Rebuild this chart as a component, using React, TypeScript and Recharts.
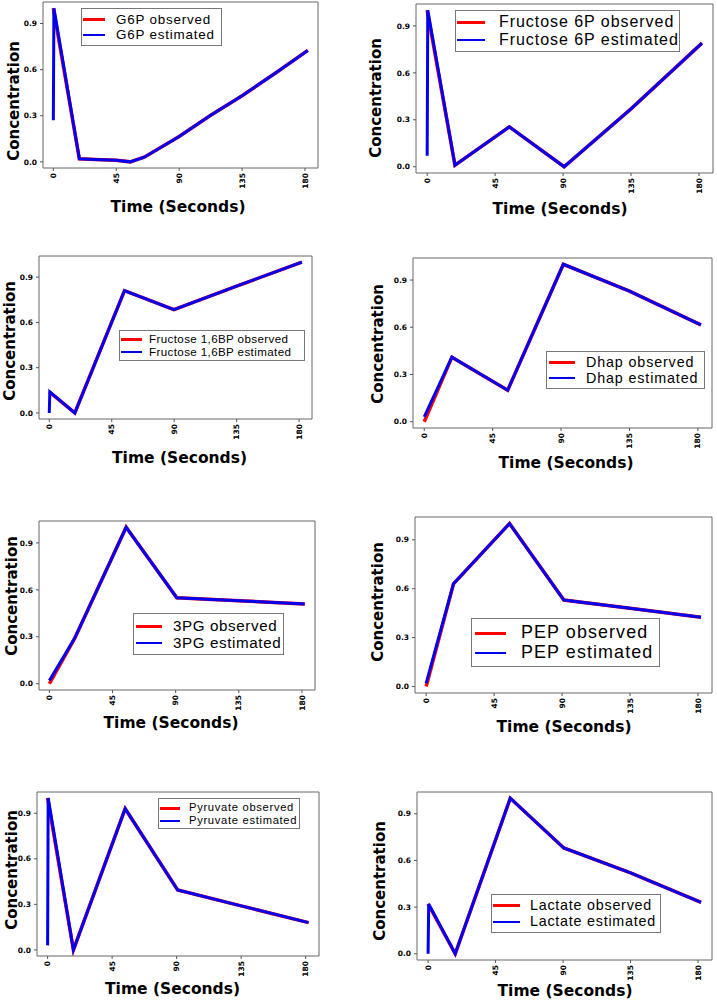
import { LineChart, Line, XAxis, YAxis, Legend, ReferenceArea } from "recharts";

// Normalised concentrations. Time in seconds.
const g6pTime = [0, 18.6, 30, 45, 55, 65, 90, 112, 135, 160, 182];
const g6pObserved = [1.0, 0.02, 0.015, 0.01, 0.0, 0.03, 0.165, 0.3, 0.43, 0.585, 0.725];
const g6pEstTime = [0, 0.4, 18.6, 30, 45, 55, 65, 90, 112, 135, 160, 182];
const g6pEstimated = [0.27, 1.0, 0.02, 0.015, 0.01, 0.0, 0.03, 0.165, 0.3, 0.43, 0.585, 0.725];

const f6pTime = [0, 18.4, 54.4, 90.7, 135, 182];
const f6pObserved = [1.0, 0.01, 0.255, 0.0, 0.37, 0.79];
const f6pEstTime = [0, 0.4, 18.4, 54.4, 90.7, 135, 182];
const f6pEstimated = [0.07, 1.0, 0.01, 0.255, 0.0, 0.37, 0.79];

const f16bpTime = [0, 18.4, 54.2, 89.8, 135, 182];
const f16bpObserved = [0.14, 0.0, 0.81, 0.685, 0.84, 1.0];
const f16bpEstTime = [0, 0.4, 18.4, 54.2, 89.8, 135, 182];
const f16bpEstimated = [0.0, 0.14, 0.0, 0.81, 0.685, 0.84, 1.0];

const dhapTime = [0, 18.2, 54.9, 91.5, 135, 182];
const dhapObserved = [0.0, 0.41, 0.2, 1.0, 0.83, 0.615];
const dhapEstTime = [0, 18.2, 54.9, 91.5, 135, 182];
const dhapEstimated = [0.03, 0.41, 0.2, 1.0, 0.83, 0.615];

const pg3Time = [0, 18, 54.7, 90.8, 135, 182];
const pg3Observed = [0.0, 0.29, 1.0, 0.55, 0.53, 0.51];
const pg3EstTime = [0, 18, 54.7, 90.8, 135, 182];
const pg3Estimated = [0.02, 0.29, 1.0, 0.55, 0.53, 0.51];

const pepTime = [0, 18.1, 55.2, 91.2, 135, 182];
const pepObserved = [0.0, 0.63, 1.0, 0.53, 0.48, 0.425];
const pepEstTime = [0, 18.1, 55.2, 91.2, 135, 182];
const pepEstimated = [0.02, 0.63, 1.0, 0.53, 0.48, 0.425];

const pyrTime = [0, 18, 54.1, 90.7, 135, 182];
const pyrObserved = [1.0, 0.0, 0.93, 0.395, 0.29, 0.18];
const pyrEstTime = [0, 0.4, 18, 54.1, 90.7, 135, 182];
const pyrEstimated = [0.03, 1.0, 0.0, 0.93, 0.395, 0.29, 0.18];

const lacTime = [0, 18.1, 54.8, 90.5, 135, 182];
const lacObserved = [0.32, 0.0, 1.0, 0.68, 0.52, 0.33];
const lacEstTime = [0, 0.4, 18.1, 54.8, 90.5, 135, 182];
const lacEstimated = [0.0, 0.32, 0.0, 1.0, 0.68, 0.52, 0.33];

const xTicks = [0, 45, 90, 135, 180];
const yTicks = [0, 0.3, 0.6, 0.9];
const X_DOMAIN: [number, number] = [-7.4, 189.3];
const Y_DOMAIN: [number, number] = [-0.04, 1.04];
const XAXIS_H = 30;

const OBS_COLOR = "#ff0000";
const EST_COLOR = "#0000ee";
const TITLE_FONT = "'DejaVu Sans', Verdana, sans-serif";
const LEGEND_FONT = "'Liberation Sans', Arial, sans-serif";

type Box = [number, number, number, number];

interface LegendCfg {
  box: Box; // l, t, r, b on the page
  swatch: [number, number];
  textX: number;
  rows: [number, number];
  font: number;
  spacing: number; // letter spacing, the original text is a bit stretched
}

interface PanelCfg {
  name: string;
  time: number[];
  observed: number[];
  estTime: number[];
  estimated: number[];
  frame: Box; // x, y, w, h on the page
  box: Box; // plot box l, t, r, b on the page
  yTitle: [number, number];
  xTitle: [number, number];
  legend: LegendCfg;
}

const panels: PanelCfg[] = [
  {
    name: "G6P", time: g6pTime, observed: g6pObserved, estTime: g6pEstTime, estimated: g6pEstimated,
    frame: [0, 0, 358, 240], box: [43, 2, 318, 168], yTitle: [19, 101], xTitle: [178, 211.5],
    legend: { box: [81, 8, 222, 46], swatch: [83, 105], textX: 116, rows: [19.5, 34.5], font: 13.4, spacing: 0.8 },
  },
  {
    name: "Fructose 6P", time: f6pTime, observed: f6pObserved, estTime: f6pEstTime, estimated: f6pEstimated,
    frame: [358, 0, 359, 240], box: [416, 4, 713, 173], yTitle: [381, 98], xTitle: [560, 214],
    legend: { box: [455, 10, 680, 52], swatch: [457, 485], textX: 499, rows: [22, 40], font: 16, spacing: 0.95 },
  },
  {
    name: "Fructose 1,6BP", time: f16bpTime, observed: f16bpObserved, estTime: f16bpEstTime, estimated: f16bpEstimated,
    frame: [0, 240, 358, 260], box: [39, 256, 312, 419], yTitle: [15, 341], xTitle: [179.5, 463],
    legend: { box: [119, 330, 305, 361], swatch: [121, 142], textX: 149, rows: [339, 352], font: 11.6, spacing: 0.38 },
  },
  {
    name: "Dhap", time: dhapTime, observed: dhapObserved, estTime: dhapEstTime, estimated: dhapEstimated,
    frame: [358, 240, 359, 260], box: [413, 258, 712, 428], yTitle: [383, 344], xTitle: [566, 468],
    legend: { box: [546, 351, 705, 389], swatch: [549, 575], textX: 586, rows: [362, 378], font: 14.3, spacing: 0.87 },
  },
  {
    name: "3PG", time: pg3Time, observed: pg3Observed, estTime: pg3EstTime, estimated: pg3Estimated,
    frame: [0, 500, 358, 250], box: [39, 521, 315, 690], yTitle: [17, 596], xTitle: [171, 728],
    legend: { box: [133, 613, 284, 655], swatch: [136, 162], textX: 173, rows: [626, 643], font: 15.2, spacing: 0.6 },
  },
  {
    name: "PEP", time: pepTime, observed: pepObserved, estTime: pepEstTime, estimated: pepEstimated,
    frame: [358, 500, 359, 250], box: [415, 517, 712, 693], yTitle: [383, 602], xTitle: [564, 732],
    legend: { box: [471, 618, 660, 667], swatch: [475, 506], textX: 521, rows: [633, 653], font: 17.9, spacing: 1.1 },
  },
  {
    name: "Pyruvate", time: pyrTime, observed: pyrObserved, estTime: pyrEstTime, estimated: pyrEstimated,
    frame: [0, 750, 358, 250], box: [37, 792, 319, 956], yTitle: [16.7, 870], xTitle: [172.5, 994],
    legend: { box: [158, 798, 300, 829], swatch: [160, 180], textX: 189, rows: [808, 820.5], font: 11.2, spacing: 0.69 },
  },
  {
    name: "Lactate", time: lacTime, observed: lacObserved, estTime: lacEstTime, estimated: lacEstimated,
    frame: [358, 750, 359, 250], box: [417, 792, 712, 960], yTitle: [385, 881], xTitle: [565, 996],
    legend: { box: [491, 894, 661, 933], swatch: [493, 520], textX: 530, rows: [905.5, 921.5], font: 14.3, spacing: 0.77 },
  },
];

const toPoints = (t: number[], v: number[]) => t.map((time, i) => ({ t: time, v: v[i] }));

const RotatedTick = (props: any) => {
  const { x, y, payload } = props;
  return (
    <text
      x={x}
      y={y}
      transform={`rotate(-90, ${x}, ${y})`}
      textAnchor="end"
      dy="0.35em"
      fontSize={7.5}
      fontWeight="bold"
      fontFamily={TITLE_FONT}
      fill="#000"
    >
      {payload.value}
    </text>
  );
};

function LegendBox({ payload, cfg }: { payload?: any[]; cfg: LegendCfg }) {
  const [l, t, r, b] = cfg.box;
  // observed row first, as in the original legend
  const items = [...(payload ?? [])].sort(
    (a, b2) => Number(String(b2.value).endsWith("observed")) - Number(String(a.value).endsWith("observed"))
  );
  const lh = cfg.font;
  return (
    <div
      style={{
        position: "relative",
        width: r - l,
        height: b - t,
        boxSizing: "border-box",
        border: "1px solid #777",
        background: "#fff",
        fontFamily: LEGEND_FONT,
        fontSize: cfg.font,
        letterSpacing: cfg.spacing,
        color: "#000",
      }}
    >
      {items.map((item, i) => {
        const rowY = cfg.rows[i] - t;
        const thick = i === 0 ? 3 : 2;
        return (
          <div key={item.value}>
            <div
              style={{
                position: "absolute",
                left: Math.round(cfg.swatch[0] - l - 1),
                top: Math.round(rowY - thick / 2 - 1),
                width: Math.round(cfg.swatch[1] - cfg.swatch[0]),
                height: thick,
                background: item.color,
              }}
            />
            <div
              style={{
                position: "absolute",
                left: cfg.textX - l - 1,
                top: rowY - lh / 2 - 1,
                height: lh,
                lineHeight: `${lh}px`,
                whiteSpace: "nowrap",
              }}
            >
              {item.value}
            </div>
          </div>
        );
      })}
    </div>
  );
}

function Panel({ cfg }: { cfg: PanelCfg }) {
  const [fx, fy, fw, fh] = cfg.frame;
  const [bl, bt, br, bb] = cfg.box;
  const lg = cfg.legend;
  return (
    <div style={{ position: "absolute", left: fx, top: fy }}>
      <LineChart
        width={fw}
        height={fh}
        margin={{ top: bt - fy, right: fx + fw - br, left: 0, bottom: fh - (bb - fy) - XAXIS_H }}
      >
        <XAxis
          type="number"
          dataKey="t"
          domain={X_DOMAIN}
          allowDataOverflow
          ticks={xTicks}
          interval={0}
          height={XAXIS_H}
          axisLine={false}
          tickLine={{ stroke: "#555" }}
          tickSize={3}
          tickMargin={2}
          tick={<RotatedTick />}
          label={() => (
            <text
              x={cfg.xTitle[0] - fx}
              y={cfg.xTitle[1] - fy}
              textAnchor="middle"
              fontFamily={TITLE_FONT}
              fontWeight="bold"
              fontSize={15.5}
              fill="#000"
            >
              Time (Seconds)
            </text>
          )}
        />
        <YAxis
          type="number"
          dataKey="v"
          domain={Y_DOMAIN}
          allowDataOverflow
          ticks={yTicks}
          interval={0}
          width={bl - fx}
          axisLine={false}
          tickLine={{ stroke: "#555" }}
          tickSize={3}
          tickMargin={3}
          tickFormatter={(v: number) => v.toFixed(1)}
          tick={{ fontSize: 7.5, fontWeight: "bold", fill: "#000", fontFamily: TITLE_FONT }}
          label={() => {
            const x = cfg.yTitle[0] - fx;
            const y = cfg.yTitle[1] - fy;
            return (
              <text
                x={x}
                y={y}
                transform={`rotate(-90, ${x}, ${y})`}
                textAnchor="middle"
                fontFamily={TITLE_FONT}
                fontWeight="bold"
                fontSize={15}
                fill="#000"
              >
                Concentration
              </text>
            );
          }}
        />
        <ReferenceArea
          x1={X_DOMAIN[0]}
          x2={X_DOMAIN[1]}
          y1={Y_DOMAIN[0]}
          y2={Y_DOMAIN[1]}
          fill="none"
          stroke="#666"
          strokeWidth={1}
          ifOverflow="visible"
        />
        <Line
          data={toPoints(cfg.time, cfg.observed)}
          dataKey="v"
          name={`${cfg.name} observed`}
          stroke={OBS_COLOR}
          strokeWidth={3.5}
          dot={false}
          activeDot={false}
          isAnimationActive={false}
        />
        <Line
          data={toPoints(cfg.estTime, cfg.estimated)}
          dataKey="v"
          name={`${cfg.name} estimated`}
          stroke={EST_COLOR}
          strokeWidth={3}
          dot={false}
          activeDot={false}
          isAnimationActive={false}
        />
        <Legend
          layout="vertical"
          align="center"
          verticalAlign="middle"
          wrapperStyle={{ left: lg.box[0] - fx, top: lg.box[1] - fy, width: lg.box[2] - lg.box[0] }}
          content={(props: any) => <LegendBox payload={props.payload} cfg={lg} />}
        />
      </LineChart>
    </div>
  );
}

export default function App() {
  return (
    <div style={{ position: "absolute", left: 0, top: 0, width: 717, height: 1000, background: "#fff" }}>
      {panels.map((p) => (
        <Panel key={p.name} cfg={p} />
      ))}
    </div>
  );
}
